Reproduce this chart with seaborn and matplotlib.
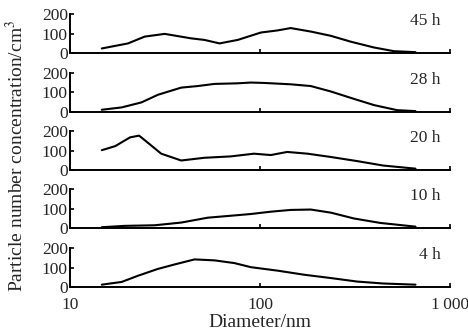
import matplotlib
matplotlib.use('Agg')
import matplotlib.pyplot as plt
import seaborn as sns
import pandas as pd

# hours of each panel, top to bottom
hours = ["45 h", "28 h", "20 h", "10 h", "4 h"]

# 45 h
d_45 = [14.7, 20.2, 24.7, 31.5, 43.4, 51, 61.2, 76.4, 101, 124, 145, 185, 236, 300, 398, 507, 658]
c_45 = [23, 49, 84, 98, 75, 67, 49, 67, 105, 116, 128, 110, 88, 58, 28, 9, 4]

# 28 h
d_28 = [14.7, 18.7, 23.8, 29, 38.5, 47, 57.6, 76, 89.5, 105, 145, 185, 236, 312, 398, 526, 658]
c_28 = [11, 23, 49, 88, 125, 133, 144, 147, 151, 149, 142, 133, 105, 67, 35, 9, 4]

# 20 h
d_20 = [14.7, 17.3, 20.7, 23.1, 24.7, 30.2, 38.5, 51, 70, 93, 114, 139, 178, 236, 324, 445, 658]
c_20 = [102, 123, 168, 177, 154, 84, 49, 63, 70, 84, 77, 93, 84, 67, 46, 23, 7]

# 10 h
d_10 = [14.7, 19.4, 27.9, 38.5, 53, 70, 89.5, 114, 145, 185, 236, 312, 430, 658]
c_10 = [4, 11, 14, 28, 53, 63, 72, 84, 93, 95, 79, 49, 26, 7]

# 4 h
d_4 = [14.7, 18.7, 22.8, 29, 35.5, 45.2, 57.6, 73.4, 89.5, 124, 171, 236, 324, 445, 658]
c_4 = [12, 26, 58, 93, 116, 142, 137, 123, 102, 84, 63, 46, 28, 18, 12]

series = [(d_45, c_45), (d_28, c_28), (d_20, c_20), (d_10, c_10), (d_4, c_4)]

y_ticks = [0, 100, 200]
x_ticks = [10, 100, 1000]
x_tick_labels = ["10", "100", "1\u2009000"]

sns.set_theme(style="ticks")
plt.rcParams['font.family'] = ['Liberation Serif', 'DejaVu Serif']
plt.rcParams['mathtext.fontset'] = 'stix'

fig = plt.figure(figsize=(4.68, 3.35), dpi=100)

left, width, height = 0.1496, 0.812, 0.116
bottoms = [0.842, 0.666, 0.4925, 0.3194, 0.1433]

tick_fs = 12.5
label_fs = 14

for i, (d, c) in enumerate(series):
    ax = fig.add_axes([left, bottoms[i], width, height])
    df = pd.DataFrame({"diameter": d, "conc": c})
    sns.lineplot(data=df, x="diameter", y="conc", ax=ax, color="black", linewidth=1.5)
    ax.set_xscale("log")
    ax.set_xlim(10, 1000)
    ax.set_ylim(0, 200)
    ax.set_yticks(y_ticks)
    ax.set_yticklabels([str(t) for t in y_ticks], fontsize=tick_fs)
    ax.set_xticks(x_ticks)
    ax.xaxis.set_minor_locator(matplotlib.ticker.NullLocator())
    ax.tick_params(axis="both", direction="in", length=3, width=1.2, color="black")
    ax.tick_params(axis="y", pad=1.5)
    ax.tick_params(axis="x", pad=7)
    for s in ["top", "right"]:
        ax.spines[s].set_visible(False)
    for s in ["left", "bottom"]:
        ax.spines[s].set_linewidth(1.4)
        ax.spines[s].set_color("black")
    ax.set_xlabel("")
    ax.set_ylabel("")
    ax.text(0.975, 0.83, hours[i], transform=ax.transAxes, ha="right", va="center", fontsize=tick_fs)
    if i < len(series) - 1:
        ax.set_xticklabels([])
    else:
        ax.set_xticklabels(x_tick_labels, fontsize=tick_fs)
        ax.set_xlabel("Diameter/nm", fontsize=label_fs, labelpad=1)
    ax.patch.set_alpha(0)

fig.text(0.035, 0.535, "Particle number concentration/cm$^3$", rotation=90,
         ha="center", va="center", fontsize=label_fs)

fig.savefig("out.png", dpi=100)
